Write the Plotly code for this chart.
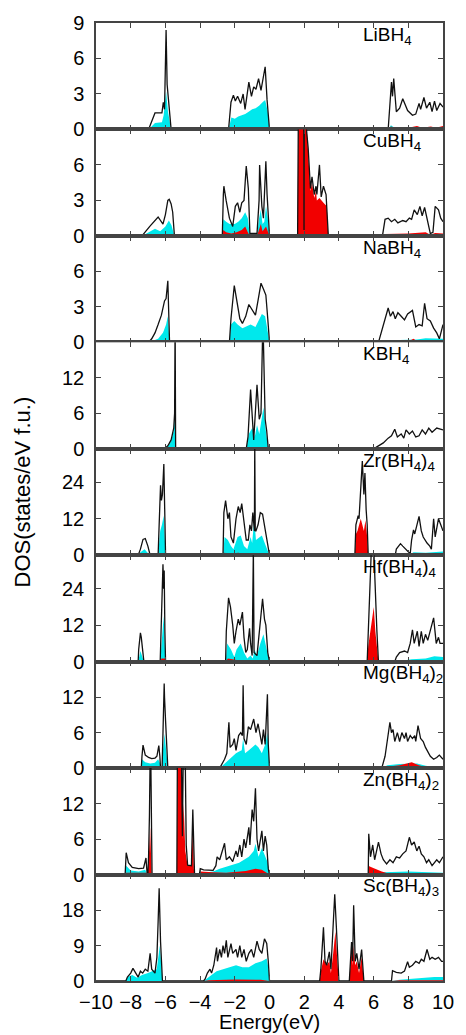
import plotly.graph_objects as go
from plotly.subplots import make_subplots

# ---------------- data: (energy eV, DOS) breakpoints ----------------
LI_TOTAL = [(-10,0),(-6.97,0),(-6.6,1.4),(-6.2,1.4),(-6.12,2.3),(-6.05,1.7),(-5.96,8.4),(-5.9,3.8),(-5.67,0),
            (-2.36,0),(-2.22,2.3),(-2.08,2.9),(-1.97,2.4),(-1.84,2.8),(-1.66,2.2),(-1.52,3.0),(-1.41,1.7),(-1.28,2.9),
            (-1.19,4.0),(-1.04,2.8),(-0.91,3.6),(-0.78,3.4),(-0.63,4.3),(-0.49,3.3),(-0.35,4.5),(-0.25,5.3),(-0.14,2.5),(0,0),
            (6.84,0),(7.03,4.0),(7.09,2.8),(7.16,4.3),(7.31,1.5),(7.5,1.8),(7.68,2.6),(7.96,1.6),(8.24,1.2),(8.43,1.3),
            (8.62,2.2),(8.71,1.7),(8.9,2.7),(9.05,1.8),(9.24,2.3),(9.37,1.5),(9.51,2.4),(9.64,1.6),(9.83,2.2),(10,1.9)]
LI_H = [(-10,0),(-6.97,0),(-6.6,0.55),(-6.2,0.6),(-6.1,1.2),(-5.96,3.2),(-5.85,1.5),(-5.67,0),
        (-2.36,0),(-2.2,1.0),(-2.0,0.9),(-1.8,1.1),(-1.6,1.2),(-1.4,1.3),(-1.2,1.5),(-1.0,1.7),(-0.8,1.8),(-0.6,2.0),
        (-0.4,2.3),(-0.25,2.5),(-0.1,1.5),(0,0),(6.84,0),(7.0,0.35),(7.2,0.15),(7.6,0.1),(10,0.1)]
LI_M = [(-10,0),(6.84,0),(7.0,0.25),(7.3,0.1),(8.0,0.15),(8.5,0.3),(8.8,0.15),(9.3,0.25),(9.6,0.15),(9.9,0.3),(10,0.3)]

CU_TOTAL = [(-10,0),(-7.35,0),(-6.9,0.8),(-6.42,1.6),(-6.14,1.0),(-6.0,1.8),(-5.86,3.0),(-5.78,3.1),(-5.67,2.7),(-5.58,2.0),(-5.48,0),
            (-2.72,0),(-2.66,3.5),(-2.63,4.2),(-2.5,3.0),(-2.31,1.5),(-2.12,0.8),(-1.97,2.5),(-1.84,2.8),(-1.71,2.0),(-1.6,2.8),
            (-1.47,3.0),(-1.34,5.9),(-1.22,4.0),(-1.13,0.2),(-0.72,0.2),(-0.6,3.0),(-0.57,6.0),(-0.44,2.5),(-0.35,1.5),
            (-0.21,6.3),(-0.14,3.5),(0,0),
            (1.62,0),(1.67,12),(1.97,12),(1.99,0.5),(2.01,12),(2.1,9.5),(2.23,7.4),(2.36,4.0),(2.45,5.0),(2.58,3.5),(2.68,4.2),
            (2.73,3.5),(2.88,6.0),(2.98,3.3),(3.11,4.2),(3.26,3.5),(3.3,2.5),(3.39,0),
            (6.51,0),(6.66,1.4),(6.84,1.5),(7.03,1.2),(7.22,1.4),(7.4,1.1),(7.68,1.3),(7.87,1.2),(8.06,1.5),(8.19,1.4),
            (8.34,2.2),(8.52,1.8),(8.67,2.5),(8.8,1.7),(8.94,2.4),(9.08,1.5),(9.27,0.2),(9.42,0.3),(9.55,2.5),(9.74,2.2),
            (9.87,1.5),(10,1.2)]
CU_H = [(-10,0),(-7.35,0),(-6.6,0.6),(-6.3,0.4),(-6.0,0.8),(-5.8,1.3),(-5.65,0.9),(-5.48,0),
        (-2.72,0),(-2.66,1.4),(-2.5,1.2),(-2.3,1.0),(-2.0,1.0),(-1.8,1.2),(-1.6,1.5),(-1.4,2.0),(-1.25,1.5),(-1.13,0),
        (-0.72,0),(-0.6,1.5),(-0.5,2.2),(-0.4,1.0),(-0.3,1.2),(-0.2,2.5),(-0.1,1.5),(0,0),
        (6.51,0),(6.7,0.1),(10,0.1)]
CU_M = [(-10,0),(-2.72,0),(-2.66,0.5),(-2.5,0.3),(-2.2,0.2),(-1.9,0.3),(-1.6,0.5),(-1.4,0.8),(-1.25,0.3),(-1.13,0),
        (-0.72,0),(-0.6,0.6),(-0.5,1.0),(-0.4,0.4),(-0.2,0.8),(-0.1,0.4),(0,0),
        (1.62,0),(1.67,12),(1.97,12),(1.99,0.5),(2.01,12),(2.15,9.0),(2.23,7.0),(2.36,3.8),(2.45,4.5),(2.58,3.2),
        (2.68,3.8),(2.73,3.0),(2.88,3.2),(2.98,3.0),(3.11,2.8),(3.3,2.5),(3.39,0),
        (6.51,0),(6.66,0.15),(8.0,0.2),(9.0,0.3),(9.27,0.1),(9.55,0.25),(10,0.2)]

NA_TOTAL = [(-10,0),(-6.97,0),(-6.79,0.3),(-6.6,0.8),(-6.42,1.5),(-6.23,2.3),(-6.05,3.5),(-5.96,3.7),(-5.86,5.2),(-5.81,3.0),(-5.76,0),
            (-2.31,0),(-2.22,2.0),(-2.03,4.8),(-1.9,3.5),(-1.71,2.0),(-1.56,1.6),(-1.37,2.2),(-1.19,3.2),(-1.0,2.8),(-0.81,2.3),
            (-0.63,3.8),(-0.49,5.0),(-0.35,4.5),(-0.21,4.0),(-0.1,2.0),(0,0),
            (6.28,0),(6.47,1.0),(6.66,1.9),(6.84,2.9),(6.97,2.2),(7.12,2.6),(7.25,2.0),(7.4,2.5),(7.59,2.2),(7.78,1.9),(7.96,2.4),
            (8.24,2.7),(8.43,1.3),(8.62,1.5),(8.8,1.4),(8.94,3.3),(9.08,2.0),(9.27,1.8),(9.46,1.2),(9.64,0.8),(9.79,0.3),(10,1.5)]
NA_H = [(-10,0),(-6.97,0),(-6.79,0.1),(-6.42,0.3),(-6.14,0.8),(-5.96,1.5),(-5.86,2.2),(-5.76,0),
        (-2.31,0),(-2.22,1.5),(-2.03,1.8),(-1.84,1.5),(-1.56,1.2),(-1.28,1.4),(-1.09,1.5),(-0.81,1.3),(-0.63,1.8),
        (-0.44,2.4),(-0.25,2.2),(-0.1,1.0),(0,0),(6.28,0),(6.5,0.15),(7.5,0.2),(8.5,0.25),(9.0,0.35),(10,0.3)]
NA_M = [(-10,0),(6.28,0),(6.5,0.1),(8.1,0.15),(8.3,0.3),(8.5,0.1),(10,0.1)]

K_TOTAL = [(-10,0),(-6.05,0),(-5.86,0.5),(-5.67,1.5),(-5.52,3.5),(-5.47,6),(-5.44,22),(-5.41,0),
           (-1.34,0),(-1.24,2.0),(-1.09,10.0),(-0.96,3.0),(-0.91,1.5),(-0.72,10.8),(-0.59,5.0),(-0.49,6.0),(-0.38,22),
           (-0.25,5.0),(-0.16,3.0),(-0.07,0),
           (6.0,0),(6.28,0.5),(6.56,1.0),(6.84,1.8),(7.03,2.2),(7.22,3.3),(7.37,2.0),(7.59,2.5),(7.74,1.8),(7.87,3.2),
           (8.06,2.5),(8.24,3.0),(8.43,2.0),(8.62,2.2),(8.8,3.2),(8.99,2.5),(9.18,3.5),(9.37,2.8),(9.64,3.5),(10,3.2)]
K_H = [(-10,0),(-6.05,0),(-5.86,0.4),(-5.67,1.3),(-5.52,3.0),(-5.45,5.5),(-5.41,0),
       (-1.34,0),(-1.19,2.5),(-1.0,3.5),(-0.85,2.0),(-0.72,4.0),(-0.59,2.5),(-0.44,5.0),(-0.35,7.0),(-0.21,3.0),(-0.07,0),
       (6.0,0),(6.5,0.2),(10,0.3)]
K_M = [(-10,0),(10,0)]

ZR_TOTAL = [(-10,0),(-7.57,0),(-7.44,2.0),(-7.29,5.2),(-7.16,5.5),(-7.01,3.0),(-6.88,0),
            (-6.42,0),(-6.36,10),(-6.28,23),(-6.23,18),(-6.17,20),(-6.09,30),(-6.05,12),(-5.99,0),
            (-2.68,0),(-2.63,14),(-2.53,18),(-2.40,12),(-2.31,14),(-2.22,6),(-2.08,4),(-1.93,12),(-1.8,16),(-1.69,14),
            (-1.6,17),(-1.47,10),(-1.34,5),(-1.22,5),(-1.13,10),(-1.04,8),(-0.96,14),(-0.87,8),(-0.85,37),(-0.82,8),
            (-0.78,8),(-0.66,10),(-0.53,14),(-0.4,13.5),(-0.25,8),(-0.12,3),(0,0),
            (4.92,0),(4.98,10),(5.11,13),(5.16,12),(5.26,22),(5.35,31),(5.44,20),(5.5,27),(5.57,15),(5.63,10),(5.69,0),
            (7.25,0),(7.31,2),(7.44,3),(7.55,3.8),(7.68,3),(7.87,2),(8.06,1),(8.11,0.5),(8.19,5),(8.3,8.3),(8.37,7),
            (8.47,9),(8.62,12.8),(8.75,8),(8.86,6),(9.08,4),(9.24,3),(9.33,2),(9.46,12),(9.55,6),(9.74,12),(9.87,10),(10,8)]
ZR_H = [(-10,0),(-7.57,0),(-7.44,1.0),(-7.29,1.5),(-7.2,2.0),(-7.05,1.0),(-6.88,0),
        (-6.42,0),(-6.3,8),(-6.2,10),(-6.1,13),(-6.05,8),(-5.99,0),
        (-2.68,0),(-2.59,6),(-2.4,5),(-2.22,3),(-2.08,2),(-1.84,6),(-1.66,6.5),(-1.47,3),(-1.28,2),(-1.09,6),(-1.0,4),
        (-0.88,12),(-0.78,5),(-0.53,6),(-0.44,6.5),(-0.21,3),(0,0),
        (7.25,0),(7.5,0.3),(8.1,0.2),(8.3,1.0),(9.0,0.8),(9.5,1.0),(10,1.2)]
ZR_M = [(-10,0),(-6.42,0),(-6.3,0.5),(-6.0,0.5),(-5.99,0),(-2.68,0),(-2.6,0.8),(-2.3,0.5),(-1.8,0.8),(-1.5,0.5),
        (-1.0,0.5),(-0.5,0.3),(0,0),
        (4.92,0),(4.98,7),(5.07,8),(5.16,10),(5.26,12),(5.35,10),(5.44,8),(5.53,11.5),(5.63,6),(5.69,0),
        (7.25,0),(7.5,0.3),(8.5,0.5),(10,0.3)]

HF_TOTAL = [(-10,0),(-7.57,0),(-7.54,4),(-7.44,9.5),(-7.39,8),(-7.31,3),(-7.24,0),
            (-6.3,0),(-6.23,15),(-6.17,27),(-6.14,32),(-6.1,24),(-6.07,30),(-6.03,10),(-5.99,0),
            (-2.53,0),(-2.49,10),(-2.36,21),(-2.25,18),(-2.12,12),(-2.03,6),(-1.93,10),(-1.8,14),(-1.71,12),(-1.56,16.3),
            (-1.47,8),(-1.37,3),(-1.28,4),(-1.15,11),(-1.09,6),(-1.0,2),(-0.93,37),(-0.89,3),(-0.72,2),(-0.53,12),
            (-0.4,20.7),(-0.29,14),(-0.21,12),(-0.1,3),(0,0),
            (5.63,0),(5.69,10),(5.78,25),(5.87,37),(6.01,37),(6.1,20),(6.19,10),(6.28,0),
            (7.22,0),(7.31,1.5),(7.5,3),(7.78,3.5),(7.96,3),(8.11,6),(8.24,10.5),(8.34,6),(8.52,10),(8.62,5),(8.75,10),
            (8.86,6),(8.99,9),(9.12,7),(9.27,10),(9.46,14.4),(9.61,6),(9.74,8),(9.83,6),(10,6)]
HF_H = [(-10,0),(-7.57,0),(-7.44,3.5),(-7.31,1),(-7.24,0),
        (-6.3,0),(-6.17,10),(-6.1,15),(-6.03,5),(-5.99,0),
        (-2.53,0),(-2.44,6),(-2.22,4),(-2.03,1.5),(-1.9,4),(-1.66,6),(-1.47,3),(-1.28,1),(-1.09,2),(-0.96,1),(-0.87,4),
        (-0.72,2),(-0.53,6),(-0.35,9),(-0.16,4),(0,0),
        (7.22,0),(7.5,0.3),(8.2,0.8),(9.0,1.0),(9.5,1.8),(10,1.5)]
HF_M = [(-10,0),(-6.3,0),(-6.23,1),(-6.03,1),(-5.99,0),(-2.53,0),(-2.4,1.0),(-2.2,0.8),(-1.8,0.5),(-1.4,0.5),(-0.9,0.5),
        (-0.5,0.5),(0,0),
        (5.63,0),(5.69,5),(5.82,10),(5.91,14),(6.01,18),(6.1,10),(6.19,5),(6.28,0),
        (7.22,0),(7.5,0.3),(8.5,0.5),(10,0.5)]

MG_TOTAL = [(-10,0),(-7.39,0),(-7.35,2),(-7.29,3.9),(-7.16,2.2),(-6.97,1.8),(-6.79,1.6),(-6.6,1.7),(-6.49,2.0),(-6.38,3.8),(-6.32,2.0),(-6.28,0),
            (-6.19,0),(-6.16,3),(-6.1,8),(-6.07,14.3),(-6.05,12),(-5.99,8),(-5.92,3),(-5.86,0),
            (-2.87,0),(-2.77,0.5),(-2.59,1.5),(-2.46,2.5),(-2.34,7.75),(-2.27,3.5),(-2.12,4),(-2.03,5),(-1.93,3),(-1.78,5.5),
            (-1.66,6),(-1.56,5.5),(-1.52,14),(-1.47,5),(-1.34,4),(-1.22,7),(-1.09,6.5),(-0.91,8.3),(-0.78,6),(-0.66,7.5),
            (-0.53,5.5),(-0.44,4),(-0.35,6.5),(-0.25,4),(-0.12,12.5),(-0.07,4),(0,0),
            (6.47,0),(6.66,2),(6.81,5),(6.94,7.75),(7.03,6),(7.12,6.5),(7.22,4.5),(7.37,6),(7.5,4.5),(7.63,6),(7.78,5),
            (7.87,6),(7.96,4.5),(8.11,5.5),(8.24,5),(8.37,5.5),(8.43,4.5),(8.56,7.2),(8.71,5),(8.86,4.5),(8.99,3.5),
            (9.12,2.8),(9.27,2.0),(9.46,1.5),(9.64,1.8),(9.79,2.2),(10,1.5)]
MG_H = [(-10,0),(-7.39,0),(-7.35,1.5),(-7.16,1.0),(-6.88,0.8),(-6.6,0.9),(-6.42,1.5),(-6.3,0.8),(-6.28,0),
        (-6.19,0),(-6.14,3),(-6.05,5.8),(-5.99,4),(-5.86,0),
        (-2.87,0),(-2.77,0.3),(-2.49,1.0),(-2.31,1.5),(-2.12,2.0),(-1.93,2.5),(-1.75,2.8),(-1.6,3.0),(-1.52,5),(-1.41,2.5),
        (-1.19,3),(-1.0,3.5),(-0.81,4),(-0.63,3.5),(-0.44,2.5),(-0.25,4),(-0.12,6),(0,0),
        (6.47,0),(6.8,0.5),(7.5,0.7),(8.5,0.8),(9.0,0.4),(9.5,0.2),(10,0.2)]
MG_M = [(-10,0),(-2.87,0),(-2.5,0.2),(-1.5,0.3),(-0.5,0.3),(0,0),(6.47,0),(7.0,0.3),(7.5,0.5),(8.2,1.0),(8.6,0.5),
        (9.0,0.2),(9.3,0),(10,0)]

ZN_TOTAL = [(-10,0),(-8.32,0),(-8.26,3.7),(-8.13,2),(-7.91,1.2),(-7.54,1.0),(-7.26,1.1),(-7.12,2.8),(-7.05,0),
            (-7.01,0),(-6.97,3),(-6.92,10),(-6.86,25),(-6.81,5),(-6.77,0),
            (-5.34,0),(-5.30,26),(-5.10,26),(-5.02,6.5),(-4.95,26),(-4.88,26),(-4.80,5),(-4.72,1.6),(-4.50,1.5),(-4.42,11),
            (-4.36,2),(-4.32,0),
            (-4.04,0),(-3.99,1),(-3.8,0.8),(-3.25,0.7),(-3.09,1.5),(-3.02,3),(-2.87,2.5),(-2.59,5.3),(-2.49,2.5),(-2.31,3),
            (-2.12,2.2),(-1.93,4),(-1.84,3),(-1.71,5),(-1.6,3),(-1.47,6),(-1.37,4.5),(-1.19,8),(-1.13,5),(-1.0,11),
            (-0.91,9),(-0.81,14.6),(-0.72,6),(-0.63,4),(-0.44,7.4),(-0.35,4),(-0.25,6.5),(-0.16,5),(-0.07,1),(0,0),
            (5.69,0),(5.72,6.9),(5.82,3),(5.95,5),(6.06,2.5),(6.28,5.5),(6.43,3.5),(6.56,2.5),(6.75,1.8),(6.94,2.5),
            (7.12,2.0),(7.31,3),(7.5,2.8),(7.68,3.5),(7.87,4),(8.06,6.3),(8.19,5),(8.34,5.5),(8.49,4),(8.62,4.8),(8.75,3.5),
            (8.9,3),(9.05,2),(9.18,2.5),(9.37,1.5),(9.64,2.5),(9.79,2),(10,3)]
ZN_H = [(-10,0),(-8.32,0),(-8.26,1.5),(-8.0,0.7),(-7.54,0.5),(-7.16,0.8),(-7.05,0),
        (-4.04,0),(-3.8,0.3),(-3.25,0.5),(-2.87,1.0),(-2.31,1.5),(-1.75,2),(-1.19,3),(-0.91,4),(-0.81,5.2),(-0.63,3),
        (-0.44,4.5),(-0.25,3),(-0.1,2),(0,0),
        (5.69,0),(6.0,0.2),(6.56,0.4),(8,0.5),(9,0.4),(10,0.3)]
ZN_M = [(-10,0),(-8.32,0),(-8.26,0.3),(-7.1,0.3),(-7.05,0),(-7.01,0),(-6.97,2),(-6.88,8),(-6.79,0),
        (-5.34,0),(-5.30,26),(-5.08,26),(-5.02,6),(-4.95,12),(-4.85,4),(-4.72,1.5),(-4.5,1.5),(-4.42,8),(-4.36,1),(-4.32,0),
        (-4.04,0),(-3.99,0.5),(-3.25,0.4),(-2.5,0.3),(-1.37,0.6),(-0.81,1.0),(-0.44,0.8),(0,0),
        (5.69,0),(5.72,1.45),(5.91,1.2),(6.19,0.8),(6.47,0.5),(6.8,0.2),(10,0.15)]

SC_TOTAL = [(-10,0),(-8.28,0),(-8.19,1),(-8.0,2),(-7.87,3.2),(-7.72,2),(-7.57,1),(-7.44,2.5),(-7.31,2),(-7.16,3),(-7.01,2.5),
            (-6.88,7),(-6.79,3),(-6.6,2),(-6.49,6),(-6.42,14.9),(-6.36,23.5),(-6.28,10),(-6.23,4),(-6.17,0),
            (-3.8,0),(-3.71,0.5),(-3.58,2),(-3.43,3),(-3.34,2),(-3.21,4),(-3.05,8.5),(-3.0,5),(-2.87,8),(-2.77,6),(-2.68,9),
            (-2.59,7),(-2.49,10.3),(-2.4,6),(-2.22,9.5),(-2.12,7),(-1.93,8),(-1.84,6),(-1.71,9),(-1.6,6),(-1.47,8),(-1.34,5),
            (-1.19,7),(-1.04,8),(-0.91,6),(-0.72,10.1),(-0.59,8),(-0.44,7),(-0.29,10.7),(-0.16,9.5),(-0.07,5),(0,0),
            (2.89,0),(2.96,3),(3.11,13.6),(3.2,5),(3.3,4),(3.45,7.4),(3.54,3),(3.63,10),(3.76,22),(3.85,14),(3.93,6),(4.0,0),
            (4.6,0),(4.66,5),(4.73,9.9),(4.79,5),(4.85,19.2),(4.94,5),(5.03,7),(5.16,3),(5.31,8),(5.39,3),(5.44,0),
            (7.03,0),(7.09,2.6),(7.31,2.2),(7.59,2.0),(7.78,2.5),(7.96,4.9),(8.06,3.5),(8.24,4),(8.43,5),(8.62,4.5),
            (8.75,5.5),(8.9,5),(9.08,8),(9.24,5.5),(9.37,6),(9.55,5.5),(9.74,6),(9.92,5),(10,5)]
SC_H = [(-10,0),(-8.28,0),(-8.19,1),(-7.91,1.5),(-7.63,0.8),(-7.35,1.5),(-7.0,2),(-6.79,2.5),(-6.5,3),(-6.32,9),(-6.2,3),(-6.17,0),
        (-3.8,0),(-3.62,0.5),(-3.34,1.5),(-3.05,2.5),(-2.68,3),(-2.31,3.5),(-1.93,4),(-1.56,3.5),(-1.19,3.5),(-0.81,4.5),
        (-0.44,5),(-0.16,5.7),(-0.05,3),(0,0),
        (7.03,0),(7.5,0.3),(8.5,0.7),(9.5,1.0),(10,1.0)]
SC_M = [(-10,0),(-3.8,0),(-3.5,0.2),(-2.0,0.4),(-0.5,0.3),(0,0),
        (2.89,0),(2.96,2.5),(3.11,5.5),(3.3,4),(3.45,5),(3.54,2),(3.67,7),(3.8,12.6),(3.91,5),(4.0,0),
        (4.6,0),(4.66,4),(4.73,8),(4.79,4),(4.85,9),(4.94,4),(5.03,5),(5.16,2),(5.31,6),(5.44,0),
        (7.03,0),(7.5,0.2),(10,0.2)]

NAMES = ["LiBH<sub>4</sub>", "CuBH<sub>4</sub>", "NaBH<sub>4</sub>", "KBH<sub>4</sub>",
         "Zr(BH<sub>4</sub>)<sub>4</sub>", "Hf(BH<sub>4</sub>)<sub>4</sub>", "Mg(BH<sub>4</sub>)<sub>2</sub>",
         "Zn(BH<sub>4</sub>)<sub>2</sub>", "Sc(BH<sub>4</sub>)<sub>3</sub>"]
Y_MAX = [9, 9, 9, 18, 35, 35, 18, 18, 27]
Y_TICKS = [[0, 3, 6, 9], [0, 3, 6], [0, 3, 6], [0, 6, 12], [0, 12, 24], [0, 12, 24], [0, 6, 12], [0, 6, 12], [0, 9, 18]]
X_TICKS = [-10, -8, -6, -4, -2, 0, 2, 4, 6, 8, 10]
TOTALS = [LI_TOTAL, CU_TOTAL, NA_TOTAL, K_TOTAL, ZR_TOTAL, HF_TOTAL, MG_TOTAL, ZN_TOTAL, SC_TOTAL]
H_PART = [LI_H, CU_H, NA_H, K_H, ZR_H, HF_H, MG_H, ZN_H, SC_H]
M_PART = [LI_M, CU_M, NA_M, K_M, ZR_M, HF_M, MG_M, ZN_M, SC_M]

# ---------------- figure ----------------
FONT = "Liberation Sans, Arial, sans-serif"
CYAN = "rgb(0,232,236)"
RED = "rgb(242,0,0)"
AX = "#444444"

n = len(NAMES)
fig = make_subplots(rows=n, cols=1, shared_xaxes=True, vertical_spacing=0)

def xy(pairs):
    return [p[0] for p in pairs], [p[1] for p in pairs]

for i in range(n):
    r = i + 1
    for part, col in ((H_PART[i], CYAN), (M_PART[i], RED)):
        x, y = xy(part)
        fig.add_trace(go.Scatter(x=x, y=y, mode="lines", fill="tozeroy", fillcolor=col,
                                 line=dict(width=0, color=col), hoverinfo="skip", showlegend=False), row=r, col=1)
    x, y = xy(TOTALS[i])
    fig.add_trace(go.Scatter(x=x, y=y, mode="lines", line=dict(width=1.3, color="#111111"),
                             showlegend=False), row=r, col=1)
    fig.update_yaxes(range=[0, Y_MAX[i]], tickvals=Y_TICKS[i], ticks="inside", ticklen=5, tickcolor=AX,
                     showline=True, linecolor=AX, linewidth=1.5, mirror="ticks", showgrid=False, zeroline=False,
                     ticklabelstandoff=6,
                     tickfont=dict(family=FONT, size=20, color="black"), row=r, col=1)
    fig.update_xaxes(range=[-10, 10], tickvals=X_TICKS, ticks="inside", ticklen=5, tickcolor=AX,
                     showline=True, linecolor=AX, linewidth=1.5, mirror="ticks", showgrid=False, zeroline=False,
                     showticklabels=(r == n), ticklabelstandoff=2,
                     tickfont=dict(family=FONT, size=20, color="black"), row=r, col=1)
    yref = "y domain" if r == 1 else f"y{r} domain"
    xref = "x" if r == 1 else f"x{r}"
    fig.add_annotation(text=NAMES[i], x=5.3, xref=xref, y=0.88, yref=yref, xanchor="left", yanchor="middle",
                       showarrow=False, font=dict(family=FONT, size=19, color="black"))

fig.add_annotation(text="DOS(states/eV f.u.)", x=-0.213, y=0.51, xref="paper", yref="paper", textangle=-90,
                   xanchor="center", yanchor="middle", showarrow=False, font=dict(family=FONT, size=22, color="black"))
fig.add_annotation(text="Energy(eV)", x=0.5, y=-0.0426, xref="paper", yref="paper", xanchor="center",
                   yanchor="middle", showarrow=False, font=dict(family=FONT, size=20, color="black"))

fig.update_layout(width=466, height=1035, margin=dict(l=96, r=13, t=19, b=54),
                  plot_bgcolor="white", paper_bgcolor="white", showlegend=False)
fig.write_html("out.html", config={"displayModeBar": False},
               post_script="document.body.style.margin='0px';document.body.style.overflow='hidden';")
